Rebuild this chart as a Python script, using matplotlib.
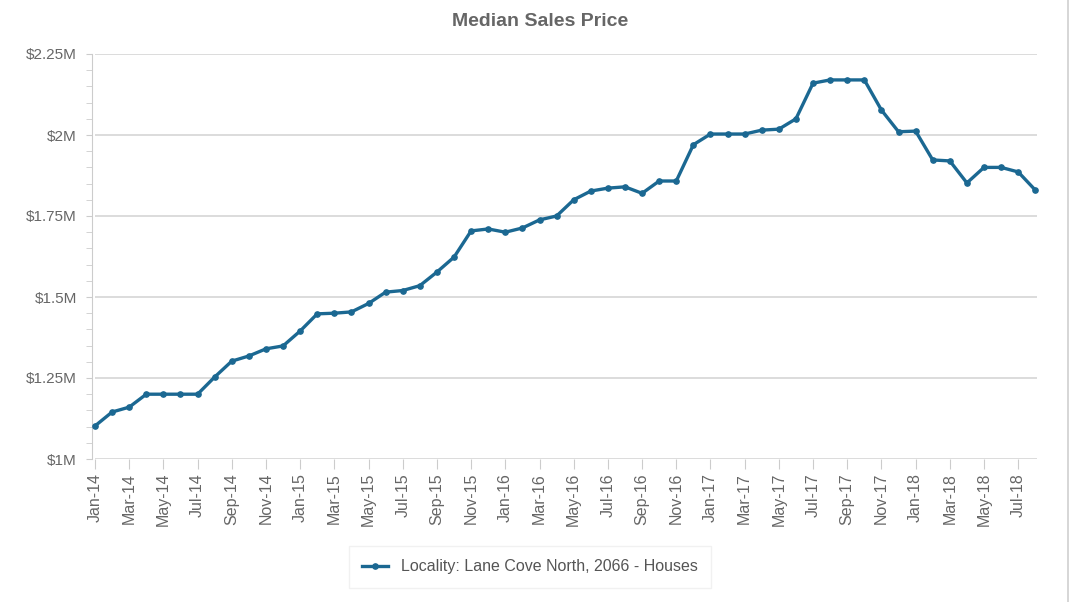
import numpy as np
import matplotlib.pyplot as plt
from matplotlib.ticker import MultipleLocator, FuncFormatter
from matplotlib.lines import Line2D

plt.rcParams['font.family'] = ['Liberation Sans', 'DejaVu Sans']

#------------------------------------------------------------------------------
# Data (median price, $M, monthly Jan-14 .. Aug-18)
#------------------------------------------------------------------------------
months = ['Jan', 'Feb', 'Mar', 'Apr', 'May', 'Jun',
          'Jul', 'Aug', 'Sep', 'Oct', 'Nov', 'Dec']
years = ['14', '15', '16', '17', '18']
labels = [m + '-' + y for y in years for m in months][:56]

price = [1.102, 1.145, 1.160, 1.200, 1.200, 1.200, 1.200, 1.253, 1.302, 1.318,
         1.340, 1.349, 1.395, 1.448, 1.450, 1.454, 1.480, 1.515, 1.520, 1.535,
         1.577, 1.623, 1.704, 1.710, 1.700, 1.713, 1.738, 1.750, 1.800, 1.827,
         1.836, 1.840, 1.820, 1.858, 1.858, 1.970, 2.003, 2.003, 2.003, 2.015,
         2.018, 2.050, 2.160, 2.170, 2.170, 2.170, 2.077, 2.010, 2.012, 1.923,
         1.920, 1.852, 1.900, 1.900, 1.886, 1.830]

series_name = 'Locality: Lane Cove North, 2066 - Houses'
line_col = '#1b6892'
txt_col = '#666666'

#------------------------------------------------------------------------------
# Plot
#------------------------------------------------------------------------------
fig = plt.figure(figsize=(10.8, 6.02), dpi=100)
ax = fig.add_axes([95/1080, 143/602, 942/1080, 405/602])

x = np.arange(len(price))
ax.plot(x, price, color=line_col, lw=2.4, marker='o', ms=3.8,
        solid_joinstyle='round', clip_on=False, zorder=3)

ax.set_xlim(0, 55.1)
ax.set_ylim(1.0, 2.25)

ax.yaxis.set_major_locator(MultipleLocator(0.25))
ax.yaxis.set_minor_locator(MultipleLocator(0.05))
ax.yaxis.set_major_formatter(FuncFormatter(lambda v, p: '$%gM' % v))
ax.set_xticks(x[::2])
ax.set_xticklabels(labels[::2], rotation=90)

ax.grid(axis='y', color='#d5d5d5', lw=1.2)
for s in ['top', 'right', 'bottom']:
    ax.spines[s].set_visible(False)
ax.spines['left'].set_color('#cccccc')
ax.spines['left'].set_position(('outward', 2))
ax.tick_params(axis='y', which='both', length=4, color='#cccccc',
               labelsize=11, labelcolor=txt_col, pad=7)
ax.tick_params(axis='x', length=7, color='#cccccc', labelsize=11.5,
               labelcolor=txt_col, pad=3)

fig.suptitle('Median Sales Price', x=0.5, y=0.978, fontsize=14,
             fontweight='bold', color=txt_col)

handle = Line2D([], [], color=line_col, lw=2.4, marker='o', ms=3.8)
leg = fig.legend([handle], [series_name], loc='center',
                 bbox_to_anchor=(530/1080, 1 - 567/602), fontsize=11.5,
                 frameon=True, fancybox=False, borderpad=0.85,
                 handlelength=1.6, borderaxespad=0)
leg.get_frame().set_edgecolor('#eeeeee')
for t in leg.get_texts():
    t.set_color('#555555')

fig.add_artist(Line2D([1068/1080, 1068/1080], [0, 1], color='#d0d0d0', lw=1.2))

plt.savefig('out.png', dpi=100)
